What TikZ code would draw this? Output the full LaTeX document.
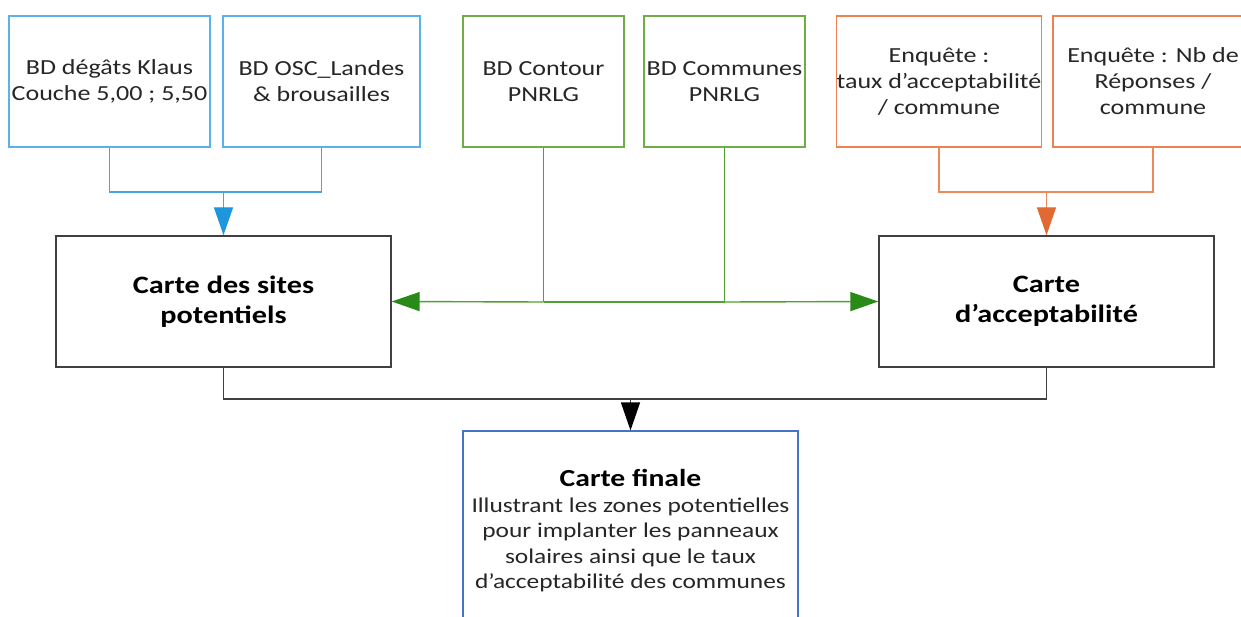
\documentclass[tikz,border=0pt]{standalone}
\usepackage{fontspec}
\setmainfont{Carlito}[FakeStretch=1.21]
\usetikzlibrary{arrows.meta}
\definecolor{bluebox}{RGB}{91,178,235}
\definecolor{blueline}{RGB}{70,165,229}
\definecolor{bluehead}{RGB}{30,150,222}
\definecolor{greenbox}{RGB}{112,173,71}
\definecolor{greenline}{RGB}{80,160,50}
\definecolor{greenhead}{RGB}{42,138,23}
\definecolor{orangebox}{RGB}{237,130,80}
\definecolor{orangeline}{RGB}{236,138,92}
\definecolor{orangehead}{RGB}{225,105,50}
\definecolor{darkbox}{RGB}{64,64,64}
\definecolor{finalblue}{RGB}{68,114,196}
\definecolor{txt}{RGB}{38,38,38}
\tikzset{
  srcbox/.style={draw, line width=1.2pt, minimum height=131pt, inner sep=0pt, align=center,
    text=txt, font=\fontsize{21.5}{26}\selectfont},
  mapbox/.style={draw=darkbox, line width=1.4pt, minimum width=335pt, minimum height=131pt,
    inner sep=0pt, align=center, text=black, font=\bfseries\fontsize{25}{30}\selectfont},
  conn/.style={line width=1.4pt},
  tri/.style={-{Triangle[length=28pt,width=19pt,color=#1]}}
}
\begin{document}
\begin{tikzpicture}[x=1pt,y=-1pt]
\useasboundingbox (0,0) rectangle (1241,617);
\fill[white] (0,0) rectangle (1241,617);
\clip (0,0) rectangle (1241,617);
% source boxes
\node[srcbox, draw=bluebox, minimum width=201pt] (b1) at (109.5,81.5) {BD dégâts Klaus\\Couche 5,00 ; 5,50};
\node[srcbox, draw=bluebox, minimum width=197pt] (b2) at (321.5,81.5) {BD OSC\_Landes\\\& brousailles};
\node[srcbox, draw=greenbox, minimum width=161pt] (b3) at (543.5,81.5) {BD Contour\\PNRLG};
\node[srcbox, draw=greenbox, minimum width=161pt] (b4) at (724.5,81.5) {BD Communes\\PNRLG};
\node[srcbox, draw=orangebox, minimum width=202pt] (b5) at (939,81.5) {Enquête :\\taux d’acceptabilité\\/ commune};
\node[srcbox, draw=orangebox, minimum width=200pt] (b6) at (1153,81.5) {Enquête : Nb de\\Réponses /\\commune};
% map boxes
\node[mapbox] (cs) at (223.5,301.5) {Carte des sites\\potentiels};
\node[mapbox] (ca) at (1046.5,301.5) {Carte\\d’acceptabilité};
\node[draw=finalblue, line width=1.2pt, minimum width=335pt, minimum height=200pt, inner sep=0pt,
      align=center, text=txt, font=\fontsize{21}{25.5}\selectfont] (cf) at (630.5,531)
  {{\bfseries\color{black}\fontsize{24.5}{25.5}\selectfont Carte finale}\\
   Illustrant les zones potentielles\\pour implanter les panneaux\\solaires ainsi que le taux\\d’acceptabilité des communes};
% junctions
\coordinate (jb) at (223.5,192);
\coordinate (jo) at (1046.5,192);
\coordinate (jg1) at (543.5,302);
\coordinate (jg2) at (724.5,302);
\coordinate (jk) at (630.5,399);
% blue
\draw[conn, blueline] (b1.south) |- (jb);
\draw[conn, blueline] (b2.south) |- (jb);
\draw[conn, blueline, tri=bluehead] (jb) -- (cs.north);
% orange
\draw[conn, orangeline] (b5.south) |- (jo);
\draw[conn, orangeline] (b6.south) |- (jo);
\draw[conn, orangeline, tri=orangehead] (jo) -- (ca.north);
% green
\draw[conn, greenline] (b3.south) -- (jg1);
\draw[conn, greenline] (b4.south) -- (jg2);
\draw[conn, greenline] (jg1) -- (jg2);
\draw[conn, greenline, tri=greenhead] (jg1) -- (cs.east);
\draw[conn, greenline, tri=greenhead] (jg2) -- (ca.west);
% black
\draw[conn, darkbox] (cs.south) |- (jk);
\draw[conn, darkbox] (ca.south) |- (jk);
\draw[conn, darkbox, tri=black] (jk) -- (cf.north);
\end{tikzpicture}
\end{document}
